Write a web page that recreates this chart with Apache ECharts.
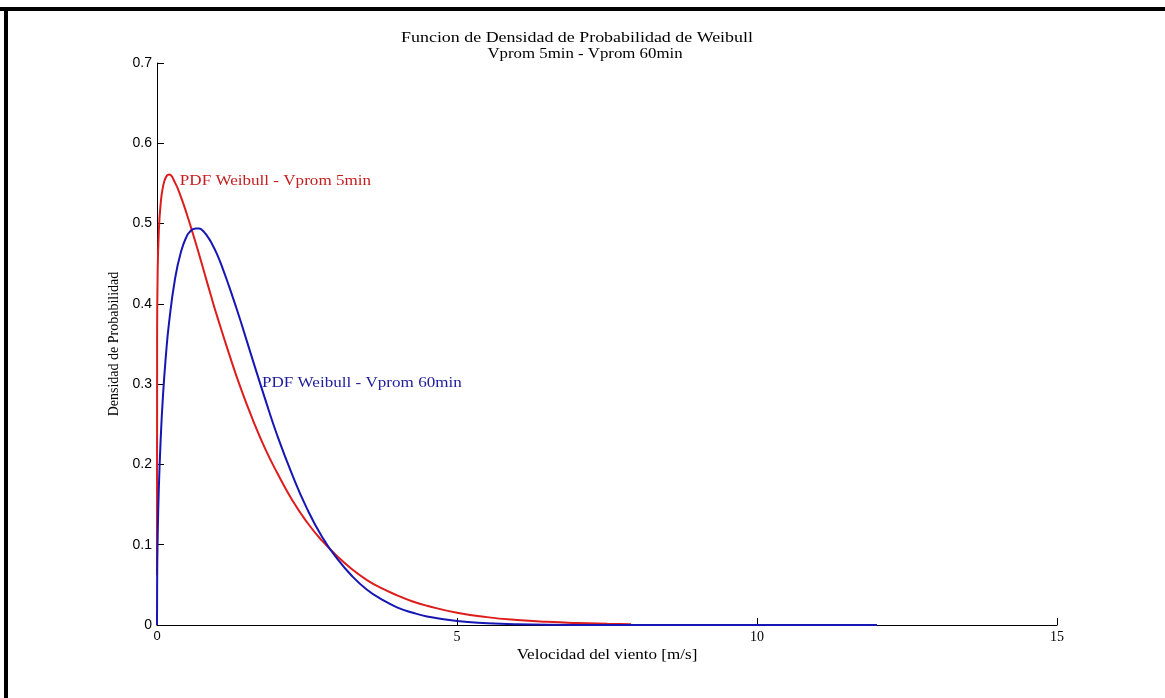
<!DOCTYPE html>
<html>
<head>
<meta charset="utf-8">
<title>Funcion de Densidad de Probabilidad de Weibull</title>
<script src="https://cdn.jsdelivr.net/npm/echarts@6/dist/echarts.min.js"></script>
<style>
  html, body { margin: 0; padding: 0; background: #ffffff; }
  #chart { width: 1165px; height: 698px; }
</style>
</head>
<body>
<div id="chart"></div>
<script>
// Wind speed samples [m/s] and Weibull density for the 5-minute averages
const speed5 = [0, 0.002, 0.01, 0.03, 0.06, 0.1, 0.15, 0.2, 0.3, 0.4, 0.5, 0.6, 0.7, 0.8, 0.9, 1.0,
  1.2, 1.4, 1.6, 1.8, 2.0, 2.25, 2.5, 2.75, 3.0, 3.25, 3.5, 3.75, 4.0, 4.25, 4.5, 5.0, 5.5, 6.0, 6.5, 7.0, 7.5, 7.9];
const pdf5 = [0.062, 0.359, 0.434, 0.490, 0.524, 0.546, 0.558, 0.561, 0.551, 0.533, 0.511, 0.487, 0.462, 0.436, 0.410, 0.385,
  0.338, 0.294, 0.255, 0.220, 0.190, 0.156, 0.128, 0.105, 0.086, 0.0695, 0.056, 0.0456, 0.037, 0.0296, 0.024, 0.0153, 0.0098, 0.0062, 0.0039, 0.0024, 0.0015, 0.0010];

// Wind speed samples [m/s] and Weibull density for the 60-minute averages
const speed60 = [0, 0.002, 0.01, 0.03, 0.06, 0.1, 0.15, 0.2, 0.3, 0.4, 0.5, 0.55, 0.6, 0.65, 0.7, 0.75, 0.8, 0.85, 0.9, 1.0,
  1.1, 1.2, 1.3, 1.4, 1.6, 1.8, 2.0, 2.25, 2.5, 2.75, 3.0, 3.25, 3.5, 3.75, 4.0, 4.25, 4.5, 5.0, 5.5, 6.0, 7.0, 8.0, 9.0, 10.0, 11.0, 12.0];
const pdf60 = [0, 0.050, 0.103, 0.169, 0.229, 0.286, 0.337, 0.376, 0.431, 0.465, 0.485, 0.490, 0.493, 0.494, 0.494, 0.492, 0.488, 0.483, 0.477, 0.462,
  0.443, 0.422, 0.400, 0.377, 0.329, 0.282, 0.237, 0.188, 0.145, 0.110, 0.083, 0.061, 0.044, 0.0317, 0.022, 0.0156, 0.0107, 0.0049, 0.0022, 0.0009, 0.0001, 0, 0, 0, 0, 0];

// Axis ranges and tick spacing
const xRange = [0, 15];
const xStep = 5;
const yRange = [0, 0.7];
const yStep = 0.1;

// In-plot curve labels (data coordinates of the text start)
const label5 = { text: 'PDF Weibull - Vprom 5min', at: [0.38, 0.553] };
const label60 = { text: 'PDF Weibull - Vprom 60min', at: [1.75, 0.301] };

const titleLines = ['Funcion de Densidad de Probabilidad de Weibull', 'Vprom 5min - Vprom 60min'];
const xName = 'Velocidad del viento [m/s]';
const yName = 'Densidad de Probabilidad';

const SERIF = '"Liberation Serif", "Times New Roman", serif';
const SANS = '"Liberation Sans", Arial, sans-serif';
const RED = '#dd1c1c';
const BLUE = '#1616b4';
const WIDE = 1.22; // horizontal stretch of the figure text

const zip = (xs, ys) => xs.map((x, i) => [x, ys[i]]);

const chart = echarts.init(document.getElementById('chart'), null, { renderer: 'canvas' });

const frame = [
  { type: 'rect', shape: { x: 0, y: 7, width: 1165, height: 4 }, style: { fill: '#000' }, silent: true },
  { type: 'rect', shape: { x: 4, y: 7, width: 4, height: 691 }, style: { fill: '#000' }, silent: true }
];

function wideText(id, text, x, y, align, size, color, stretch) {
  return {
    id, type: 'text', x, y, scaleX: stretch || WIDE, silent: true,
    style: {
      text, fill: color, font: size + 'px ' + SERIF,
      textAlign: align, textVerticalAlign: 'middle'
    }
  };
}

chart.setOption({
  backgroundColor: '#ffffff',
  animation: false,
  grid: { left: 157, right: 108, top: 63, bottom: 73, containLabel: false },
  xAxis: {
    type: 'value',
    min: xRange[0], max: xRange[1], interval: xStep,
    axisLine: { lineStyle: { color: '#000', width: 1 } },
    axisTick: { inside: true, length: 7, lineStyle: { color: '#000' } },
    splitLine: { show: false },
    axisLabel: {
      margin: 5,
      color: '#000',
      fontFamily: SERIF,
      fontSize: 14,
      formatter: v => (v === 0 ? '{s|0}' : String(v)),
      rich: { s: { fontFamily: SANS, fontSize: 13, color: '#000' } }
    }
  },
  yAxis: {
    type: 'value',
    min: yRange[0], max: yRange[1], interval: yStep,
    name: yName,
    nameLocation: 'middle',
    nameGap: 34,
    nameTextStyle: { fontFamily: SERIF, fontSize: 14, color: '#000' },
    axisLine: { show: true, lineStyle: { color: '#000', width: 1 } },
    axisTick: { show: true, inside: true, length: 7, lineStyle: { color: '#000' } },
    splitLine: { show: false },
    axisLabel: {
      margin: 5,
      color: '#000',
      fontFamily: SANS,
      fontSize: 14,
      formatter: v => (v === 0 ? '0' : v.toFixed(1))
    }
  },
  series: [
    {
      name: 'Vprom 5min',
      type: 'line',
      data: zip(speed5, pdf5),
      showSymbol: false,
      smooth: 0.5,
      lineStyle: { color: RED, width: 2 },
      itemStyle: { color: RED },
      z: 3
    },
    {
      name: 'Vprom 60min',
      type: 'line',
      data: zip(speed60, pdf60),
      showSymbol: false,
      smooth: 0.5,
      lineStyle: { color: BLUE, width: 2 },
      itemStyle: { color: BLUE },
      z: 4
    }
  ],
  graphic: frame
});

// Text placed after layout so data-anchored labels go through the grid's scales
const p5 = chart.convertToPixel({ gridIndex: 0 }, label5.at);
const p60 = chart.convertToPixel({ gridIndex: 0 }, label60.at);
const gridRect = chart.getModel().getComponent('grid', 0).coordinateSystem.getRect();
const axisMid = gridRect.x + gridRect.width / 2;

chart.setOption({
  graphic: frame.concat([
    wideText('t1', titleLines[0], 577, 38, 'center', 14, '#000', 1.28),
    wideText('t2', titleLines[1], 585, 54, 'center', 14, '#000', 1.2),
    wideText('xn', xName, axisMid, gridRect.y + gridRect.height + 30, 'center', 14, '#000'),
    wideText('l5', label5.text, p5[0], p5[1], 'left', 14, '#c41e1e'),
    wideText('l60', label60.text, p60[0], p60[1], 'left', 14, '#1c1c9c')
  ])
});
</script>
</body>
</html>
